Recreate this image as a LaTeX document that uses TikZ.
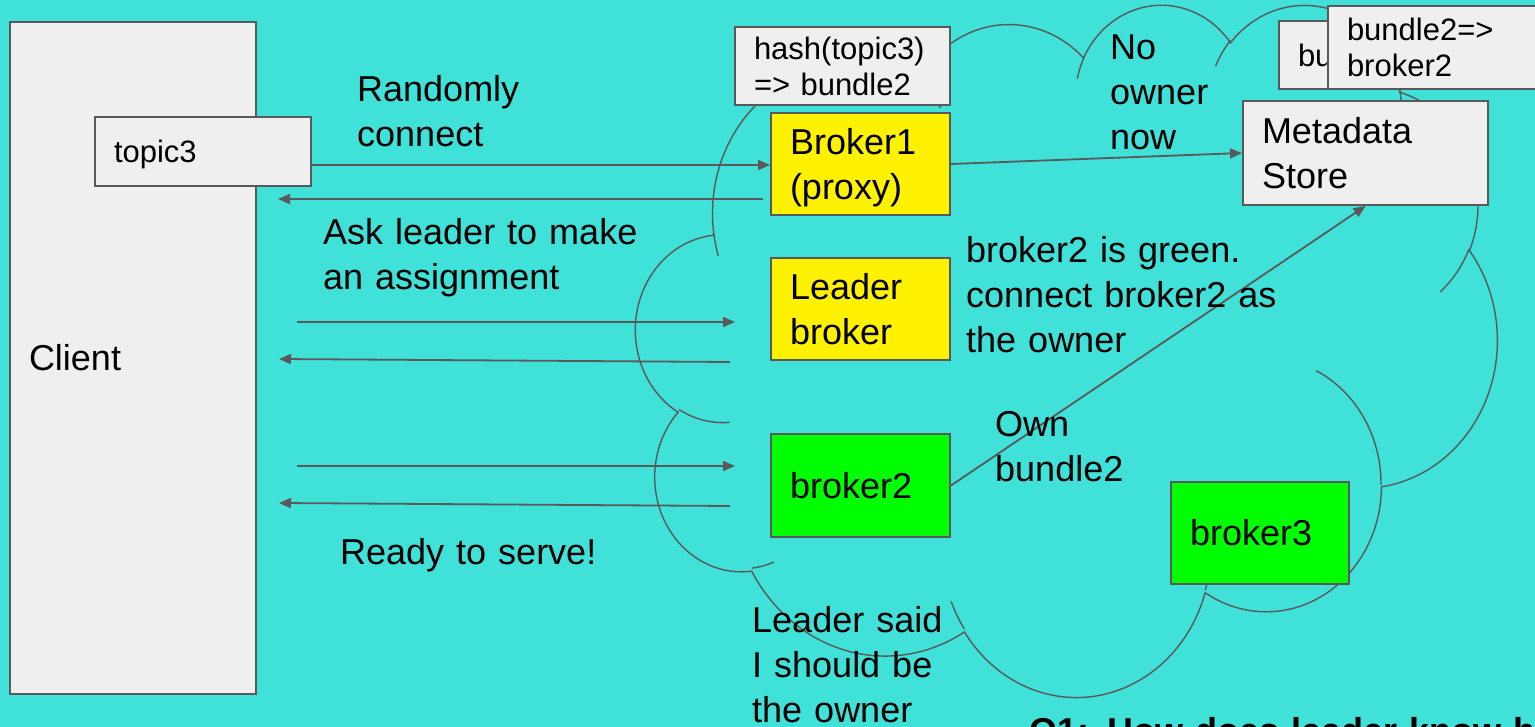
\documentclass[tikz,border=0pt]{standalone}
\usepackage{fontspec}
\setmainfont{Liberation Sans}
\usetikzlibrary{arrows.meta,positioning}

\definecolor{sea}{HTML}{3FE1D9}
\definecolor{boxgray}{HTML}{EFEFEF}
\definecolor{edgegray}{HTML}{595959}

\newcommand\bigtext{\fontsize{36}{45}\selectfont}
\newcommand\smalltext{\fontsize{31}{36}\selectfont}
% one lobe of the cloud: x radius, y radius, start angle, sweep
\newcommand\cloudarc[4]{arc[x radius=#1, y radius=#2,
  start angle={atan2(#1*sin(#3),#2*cos(#3))},
  delta angle={#4+mod(atan2(#1*sin(#3+#4),#2*cos(#3+#4))-atan2(#1*sin(#3),#2*cos(#3))-(#4)+540,360)-180}]}

\tikzset{
  box/.style 2 args={draw=edgegray, line width=2pt, fill=boxgray, inner xsep=19pt, inner ysep=0pt,
    minimum width=#1, minimum height=#2, text width=#1-38, align=left, font=\bigtext,
    text height=25.8pt, text depth=0pt},
  twolines/.style={text depth=45pt},
  small/.style={font=\smalltext, text height=22.2pt},
  smalltwo/.style={font=\smalltext, text height=22.2pt, text depth=36pt},
  note/.style={font=\bigtext, inner sep=0pt, anchor=base west, text width=600pt, align=left},
  flow/.style={draw=edgegray, line width=1.8pt, -{Triangle[length=12pt,width=10pt]}},
  cloudline/.style={draw=edgegray, line width=1.4pt}
}

\begin{document}
\begin{tikzpicture}[x=1pt,y=-1pt]
    \path[use as bounding box, fill=sea] (0,0) rectangle (1535,727);

    % Cloud of brokers
    \begin{scope}[shift={(636,3)}, x=0.199306pt, y=-0.160185pt]
    \draw[cloudline] (390,1437)
        \cloudarc{675.3}{919}{-190.4875}{123.7805}
        \cloudarc{533.3}{726.7}{-144.1024}{89.9452}
        \cloudarc{436.5}{594.5}{-145.8079}{99.7230}
        \cloudarc{485.7}{659.5}{-130.9861}{117.2417}
        \cloudarc{533.3}{727.3}{-78.7089}{109.0269}
        \cloudarc{677.5}{922}{-46.2673}{130.2690}
        \cloudarc{578.5}{786.7}{0.6250}{114.0333}
        \cloudarc{675.2}{921.5}{22.4516}{115.1726}
        \cloudarc{772}{1054.3}{66.2426}{75.7110}
        \cloudarc{436}{591.8}{-274.9421}{146.7356}
        \cloudarc{434.5}{594.5}{-246.8285}{152.5189} -- cycle;
    \draw[cloudline]
        (469.3,2617.7) \cloudarc{434.5}{594.5}{86.7420}{26.4295}
        (692.8,3489.9) \cloudarc{436}{591.8}{73.6105}{11.4475}
        (1647.8,3909) \cloudarc{675.2}{921.5}{137.6242}{14.0811}
        (2882.7,3475.1) \cloudarc{675.2}{921.5}{6.4533}{15.9984}
        (3412.9,2295.4) \cloudarc{578.5}{786.7}{-70.2924}{70.9174}
        (4179.8,1535.4) \cloudarc{533.3}{727.3}{30.3180}{27.7515}
        (3832.4,542.6) \cloudarc{485.7}{659.5}{-13.7443}{14.8589}
        (2907.8,395.2) \cloudarc{485.7}{659.5}{-149.1815}{18.1954}
        (2214.1,472) \cloudarc{436.5}{594.5}{-163.4943}{17.6864}
        (1400,519.2) \cloudarc{675.3}{919}{-66.7070}{12.3194}
        (412.7,1578.9) \cloudarc{675.3}{919}{157.6544}{11.8582};
    \end{scope}

    % Boxes
    \node[box={246}{672}] (client) at (133,358) {Client};
    \node[box={216}{69}, small] (topic3) at (203,151.5) {topic3};
    \node[box={215}{78}, smalltwo] (hash) at (842.5,66) {hash(topic3)\\=> bundle2};
    \node[box={179}{102}, twolines, fill=yellow] (broker1) at (860.5,164) {Broker1\\(proxy)};
    \node[box={179}{102}, twolines, fill=yellow] (leader) at (860.5,309) {Leader\\broker};
    \node[box={179}{103}, fill=green] (broker2) at (860.5,485.5) {broker2};
    \node[box={178}{102}, fill=green] (broker3) at (1260,533) {broker3};
    \node[box={245}{104}, twolines] (metadata) at (1365.5,153) {Metadata\\Store};
    \node[box={240}{68}, small] (bundleold) at (1399,55) {bu};
    \node[box={240}{83}, smalltwo] (bundlenew) at (1448,47.5) {bundle2=>\\broker2};

    % Loose ends of the client arrows
    \coordinate (reply) at (763,199);
    \coordinate (replyend) at (278,199);
    \coordinate (ask) at (297,322);
    \coordinate (askend) at (735,322);
    \coordinate (assign) at (730,362);
    \coordinate (assignend) at (279,359);
    \coordinate (own) at (297,466);
    \coordinate (ownend) at (735,466);
    \coordinate (serve) at (730,506);
    \coordinate (serveend) at (279,503);

    \draw[flow] (topic3.east |- 0,165) -- (broker1.west |- 0,165);
    \draw[flow] (reply) -- (replyend);
    \draw[flow] (ask) -- (askend);
    \draw[flow] (assign) -- (assignend);
    \draw[flow] (own) -- (ownend);
    \draw[flow] (serve) -- (serveend);
    \draw[flow] (broker1.east) -- (metadata.west);
    \draw[flow] (broker2.east) -- (metadata.south);

    % Labels
    \node[note] (randomly) at (357,102) {Randomly\\connect};
    \node[note] (askleader) at (323,245) {Ask leader to make\\an assignment};
    \node[note] (ready) at (340,564) {Ready to serve!};
    \node[note] (noowner) at (1110,60) {No\\owner\\now};
    \node[note] (isgreen) at (966,263) {broker2 is green.\\connect broker2 as\\the owner};
    \node[note] (ownbundle) at (995,436) {Own\\bundle2};
    \node[note] (leadersaid) at (752,632) {Leader said\\I should be\\the owner};
    \node[note, font=\bigtext\bfseries] (question) at (1029,743) {Q1: How does leader know h};
\end{tikzpicture}
\end{document}
